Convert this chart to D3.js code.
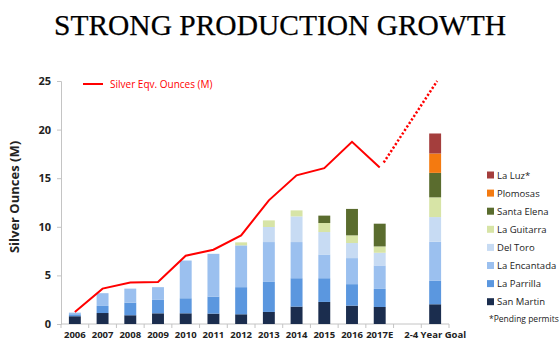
<!DOCTYPE html>
<html>
<head>
<meta charset="utf-8">
<script src="https://cdn.jsdelivr.net/npm/d3@7"></script>
<style>
  body { margin: 0; background: #fff; }
  svg { display: block; }
  .axis text { font-family: "Open Sans", "DejaVu Sans", sans-serif; font-weight: bold; fill: #222; }
</style>
</head>
<body>
<script>
// categories along the x axis (blank slot before the goal column)
const categories = ["2006", "2007", "2008", "2009", "2010", "2011", "2012", "2013", "2014", "2015", "2016", "2017E", " ", "2-4 Year Goal"];

// production by mine, millions of ounces
const sanMartin   = [0.8, 1.13, 0.9, 1.1, 1.1, 1.07, 1.0, 1.24, 1.79, 2.27, 1.89, 1.75, 0, 2.03];
const laParrilla  = [0.2, 0.73, 1.3, 1.38, 1.55, 1.75, 2.79, 3.09, 2.92, 2.44, 2.21, 1.86, 0, 2.41];
const laEncantada = [0.17, 1.31, 1.44, 1.31, 3.88, 4.4, 4.3, 4.1, 3.72, 2.44, 2.68, 2.41, 0, 4.02];
const delToro     = [0, 0, 0, 0, 0, 0, 0, 1.55, 2.64, 2.31, 1.55, 1.31, 0, 2.54];
const laGuitarra  = [0, 0, 0, 0, 0, 0, 0.31, 0.68, 0.62, 0.93, 0.79, 0.65, 0, 2.03];
const santaElena  = [0, 0, 0, 0, 0, 0, 0, 0, 0, 0.76, 2.72, 2.34, 0, 2.52];
const plomosas    = [0, 0, 0, 0, 0, 0, 0, 0, 0, 0, 0, 0, 0, 1.99];
const laLuz       = [0, 0, 0, 0, 0, 0, 0, 0, 0, 0, 0, 0, 0, 2.06];

// silver equivalent ounces, actuals then goal
const silverEqv = [1.24, 3.64, 4.26, 4.33, 7.02, 7.64, 9.12, 12.72, 15.3, 16.03, 18.75, 16.1];
const silverEqvGoal = 25;

const yTicks = [0, 5, 10, 15, 20, 25];

const mines = [
  { key: "San Martin", values: sanMartin, color: "#1b2d4e" },
  { key: "La Parrilla", values: laParrilla, color: "#5b97df" },
  { key: "La Encantada", values: laEncantada, color: "#9bc0ef" },
  { key: "Del Toro", values: delToro, color: "#c7dbf3" },
  { key: "La Guitarra", values: laGuitarra, color: "#d7e4a6" },
  { key: "Santa Elena", values: santaElena, color: "#5a6c2e" },
  { key: "Plomosas", values: plomosas, color: "#f47a10" },
  { key: "La Luz*", values: laLuz, color: "#a43e3d" }
];

const width = 560, height = 345;
const margin = { top: 81, right: 111, bottom: 21, left: 61 };

const svg = d3.select("body").append("svg")
  .attr("width", width)
  .attr("height", height);

// title
svg.append("text")
  .attr("x", 280)
  .attr("y", 35)
  .attr("text-anchor", "middle")
  .attr("textLength", 452)
  .attr("lengthAdjust", "spacingAndGlyphs")
  .style("font-family", "'Liberation Serif', 'DejaVu Serif', serif")
  .style("font-size", "29px")
  .style("fill", "#000")
  .style("stroke", "#000")
  .style("stroke-width", 0.25)
  .text("STRONG PRODUCTION GROWTH");

const x = d3.scaleBand()
  .domain(categories)
  .range([margin.left, width - margin.right])
  .paddingInner(0.57)
  .paddingOuter(0.285);

const y = d3.scaleLinear()
  .domain([0, 25])
  .range([height - margin.bottom, margin.top]);

const step = x.step();
const x0 = margin.left;

// rows for stacking
const rows = categories.map(function(c, i) {
  const row = { cat: c };
  mines.forEach(function(m) { row[m.key] = m.values[i]; });
  return row;
});

const stack = d3.stack().keys(mines.map(function(m) { return m.key; }));
const layers = stack(rows);

const color = d3.scaleOrdinal()
  .domain(mines.map(function(m) { return m.key; }))
  .range(mines.map(function(m) { return m.color; }));

// axes
const yAxis = svg.append("g")
  .attr("class", "axis")
  .attr("transform", "translate(" + x0 + ",0)")
  .call(d3.axisLeft(y).tickValues(yTicks).tickSize(4).tickPadding(6));
yAxis.selectAll("text").style("font-size", "11px");

const xAxis = svg.append("g")
  .attr("class", "axis")
  .attr("transform", "translate(0," + y(0) + ")")
  .call(d3.axisBottom(x).tickSize(0).tickPadding(7));
xAxis.selectAll("text").style("font-size", "9.5px");
xAxis.select(".domain").attr("d", "M" + x0 + ",0H" + (width - margin.right));

// tick marks sit between categories
xAxis.selectAll(".sep")
  .data(d3.range(categories.length + 1))
  .enter().append("line")
  .attr("class", "sep")
  .attr("x1", function(i) { return x0 + i * step; })
  .attr("x2", function(i) { return x0 + i * step; })
  .attr("y1", 0)
  .attr("y2", 4);

svg.selectAll(".axis path, .axis line, .sep").style("stroke", "#c4c4c4");

// stacked bars
svg.append("g").selectAll("g")
  .data(layers)
  .enter().append("g")
  .attr("fill", function(d) { return color(d.key); })
  .selectAll("rect")
  .data(function(d) { return d; })
  .enter().append("rect")
  .filter(function(d) { return d[1] - d[0] > 0; })
  .attr("x", function(d) { return x(d.data.cat); })
  .attr("y", function(d) { return y(d[1]); })
  .attr("width", x.bandwidth())
  .attr("height", function(d) { return y(d[0]) - y(d[1]); });

// silver equivalent line
const cx = function(i) { return x(categories[i]) + x.bandwidth() / 2; };
const line = d3.line()
  .x(function(d, i) { return cx(i); })
  .y(function(d) { return y(d); });

svg.append("path")
  .datum(silverEqv)
  .attr("d", line)
  .attr("fill", "none")
  .attr("stroke", "#ff0000")
  .attr("stroke-width", 2);

// dotted projection to the goal
const last = silverEqv.length - 1;
const goalIdx = categories.length - 1;
svg.append("line")
  .attr("x1", cx(last) + 4)
  .attr("y1", y(silverEqv[last]) - 5)
  .attr("x2", cx(goalIdx) + 2)
  .attr("y2", y(silverEqvGoal))
  .attr("stroke", "#ff0000")
  .attr("stroke-width", 2.5)
  .attr("stroke-dasharray", "2.2,2");

// line legend
svg.append("line")
  .attr("x1", 83).attr("x2", 103)
  .attr("y1", 84).attr("y2", 84)
  .attr("stroke", "#ff0000")
  .attr("stroke-width", 2);
svg.append("text")
  .attr("x", 110)
  .attr("y", 88)
  .style("font-family", "'Open Sans', 'DejaVu Sans', sans-serif")
  .style("font-size", "10px")
  .style("fill", "#ff0000")
  .text("Silver Eqv. Ounces (M)");

// y axis title
svg.append("text")
  .attr("transform", "translate(19,197) rotate(-90)")
  .attr("text-anchor", "middle")
  .style("font-family", "'Open Sans', 'DejaVu Sans', sans-serif")
  .style("font-weight", "bold")
  .style("font-size", "13px")
  .style("fill", "#222")
  .text("Silver Ounces (M)");

// mine legend, top to bottom
const legend = svg.append("g").selectAll("g")
  .data(mines.slice().reverse())
  .enter().append("g")
  .attr("transform", function(d, i) { return "translate(487," + (175 + i * 18.1) + ")"; });

legend.append("rect")
  .attr("x", 0).attr("y", -3.5)
  .attr("width", 7).attr("height", 7)
  .attr("fill", function(d) { return d.color; });

legend.append("text")
  .attr("x", 10)
  .attr("y", 3.5)
  .style("font-family", "'Open Sans', 'DejaVu Sans', sans-serif")
  .style("font-size", "9.5px")
  .style("fill", "#222")
  .text(function(d) { return d.key; });

svg.append("text")
  .attr("x", 489)
  .attr("y", 322)
  .style("font-family", "'Open Sans', 'DejaVu Sans', sans-serif")
  .style("font-size", "8.5px")
  .style("fill", "#222")
  .text("*Pending permits");
</script>
</body>
</html>
